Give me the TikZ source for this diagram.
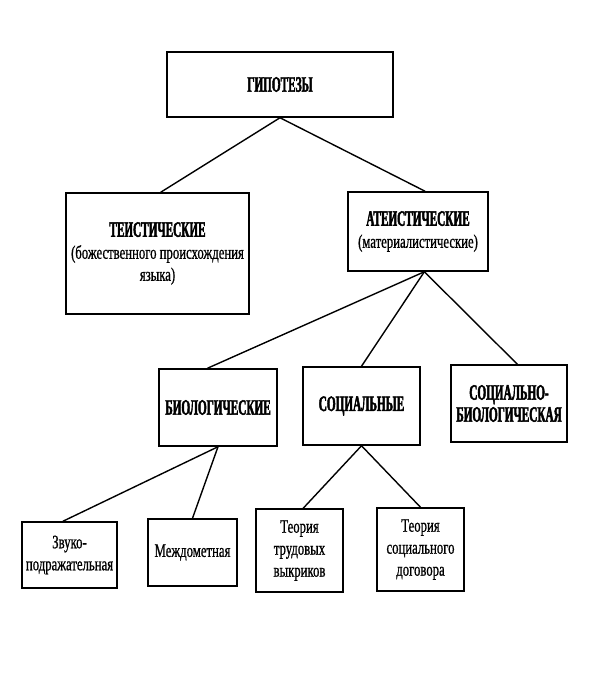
\documentclass[tikz,border=0pt]{standalone}
\usepackage{fontspec}
\setmainfont{Liberation Serif}
\newfontfamily\capsfont[FakeStretch=0.51,FakeBold=2]{Liberation Serif Bold}
\newfontfamily\lowfont[FakeStretch=0.67,FakeBold=0.8]{Liberation Serif}
\def\heading#1{{\capsfont\fontsize{22}{22}\selectfont #1}}

\begin{document}
\begin{tikzpicture}[x=1pt, y=-1pt,
		box/.style={draw, line width=1.5pt, inner sep=0pt, align=center,
			font=\lowfont\fontsize{19}{22}\selectfont},
		link/.style={line width=1.4pt}]
			%%%%% FRAME %%%%%
			\useasboundingbox (0, 0) rectangle (602, 688);
			
			%%%%% BOXES %%%%%
			\node[box, minimum width=226, minimum height=65] (hyp) at (280, 84.5) {\heading{ГИПОТЕЗЫ}};
			
			\node[box, minimum width=183, minimum height=121] (theist) at (157.5, 253.5)
				{\heading{ТЕИСТИЧЕСКИЕ}\\(божественного происхождения\\языка)};
			\node[box, minimum width=140, minimum height=79] (atheist) at (418, 231.5)
				{\heading{АТЕИСТИЧЕСКИЕ}\\(материалистические)};
			
			\node[box, minimum width=118, minimum height=77] (bio) at (218, 407.5) {\heading{БИОЛОГИЧЕСКИЕ}};
			\node[box, minimum width=117, minimum height=78] (soc) at (361.5, 406) {\heading{СОЦИАЛЬНЫЕ}};
			\node[box, minimum width=116, minimum height=77] (socbio) at (509, 403.5)
				{\heading{СОЦИАЛЬНО-}\\\heading{БИОЛОГИЧЕСКАЯ}};
			
			\node[box, minimum width=95, minimum height=66] (zvuk) at (69.5, 555) {Звуко-\\подражательная};
			\node[box, minimum width=89, minimum height=67] (mezhd) at (192.5, 552.5) {Междометная};
			\node[box, minimum width=87, minimum height=83] (trud) at (299.5, 550.5) {Теория\\трудовых\\выкриков};
			\node[box, minimum width=87, minimum height=83] (dogovor) at (420.5, 549.5) {Теория\\социального\\договора};
			
			%%%%% LINKS %%%%%
			\draw[link] (hyp.south) -- (theist.87);
			\draw[link] (hyp.south) -- (atheist.80);
			
			\draw[link] (atheist.-81) -- (bio.105);
			\draw[link] (atheist.-81) -- (soc.north);
			\draw[link] (atheist.-81) -- (socbio.78);
			
			\draw[link] (bio.south) -- (zvuk.101);
			\draw[link] (bio.south) -- (mezhd.north);
			
			\draw[link] (soc.south) -- (trud.85);
			\draw[link] (soc.south) -- (dogovor.north);
			
			%%%%% END %%%%%
\end{tikzpicture}
\end{document}
